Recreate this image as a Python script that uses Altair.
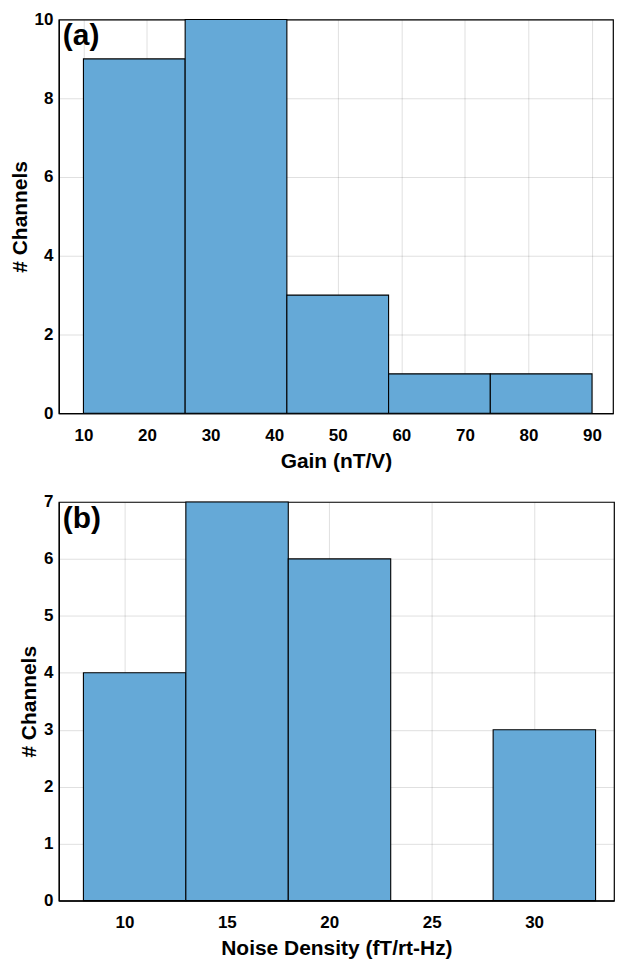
import altair as alt
import pandas as pd

# Panel (a): gain histogram
gain_lo = [10, 26, 42, 58, 74]
gain_hi = [26, 42, 58, 74, 90]
gain_count = [9, 10, 3, 1, 1]

# Panel (b): noise density histogram
noise_lo = [8, 13, 18, 23, 28]
noise_hi = [13, 18, 23, 28, 33]
noise_count = [4, 7, 6, 0, 3]

gain_ticks = [10, 20, 30, 40, 50, 60, 70, 80, 90]
gain_yticks = [0, 2, 4, 6, 8, 10]
noise_ticks = [10, 15, 20, 25, 30]
noise_yticks = [0, 1, 2, 3, 4, 5, 6, 7]

FILL = "#65A9D7"
FONT = "Liberation Sans"


def panel(lo, hi, cnt, xdom, ydom, xt, yt, xtitle, tag, w, h):
    df = pd.DataFrame({"lo": lo, "hi": hi, "n": cnt})
    xax = alt.Axis(values=xt, title=xtitle, grid=True, tickSize=0,
                   labelPadding=14, titlePadding=7)
    yax = alt.Axis(values=yt, title="# Channels", grid=True, tickSize=0,
                   labelPadding=6, titlePadding=4)
    bars = alt.Chart(df).mark_rect(
        fill=FILL, stroke="black", strokeWidth=1.1, opacity=1
    ).encode(
        x=alt.X("lo:Q", scale=alt.Scale(domain=xdom, nice=False, zero=False), axis=xax),
        x2="hi:Q",
        y=alt.Y("n:Q", scale=alt.Scale(domain=ydom, nice=False), axis=yax),
        y2=alt.datum(0),
    )
    label = alt.Chart(pd.DataFrame({"t": [tag]})).mark_text(
        font=FONT, fontSize=30, fontWeight="bold", align="left",
        baseline="top", color="black"
    ).encode(text="t:N", x=alt.value(4), y=alt.value(2))
    return alt.layer(bars, label).properties(width=w, height=h)


top = panel(gain_lo, gain_hi, gain_count, [6.13, 93.3], [0, 10],
            gain_ticks, gain_yticks, "Gain (nT/V)", "(a)", 556, 395)
bot = panel(noise_lo, noise_hi, noise_count, [6.8, 33.9], [0, 7],
            noise_ticks, noise_yticks, "Noise Density (fT/rt-Hz)", "(b)", 557, 400)

chart = alt.vconcat(top, bot, spacing=20).properties(
    padding={"left": 0, "top": 0, "right": 0, "bottom": 0}
).configure_view(
    stroke="black", strokeWidth=1.2
).configure_axis(
    labelFont=FONT, labelFontSize=17, labelFontWeight="bold", labelColor="black",
    titleFont=FONT, titleFontSize=21, titleFontWeight="bold", titleColor="black",
    domainColor="black", domainWidth=1.2,
    gridColor="#262626", gridOpacity=0.15, gridWidth=1, zindex=1,
)

chart.save("out.html", embed_options={"renderer": "svg", "actions": False})
